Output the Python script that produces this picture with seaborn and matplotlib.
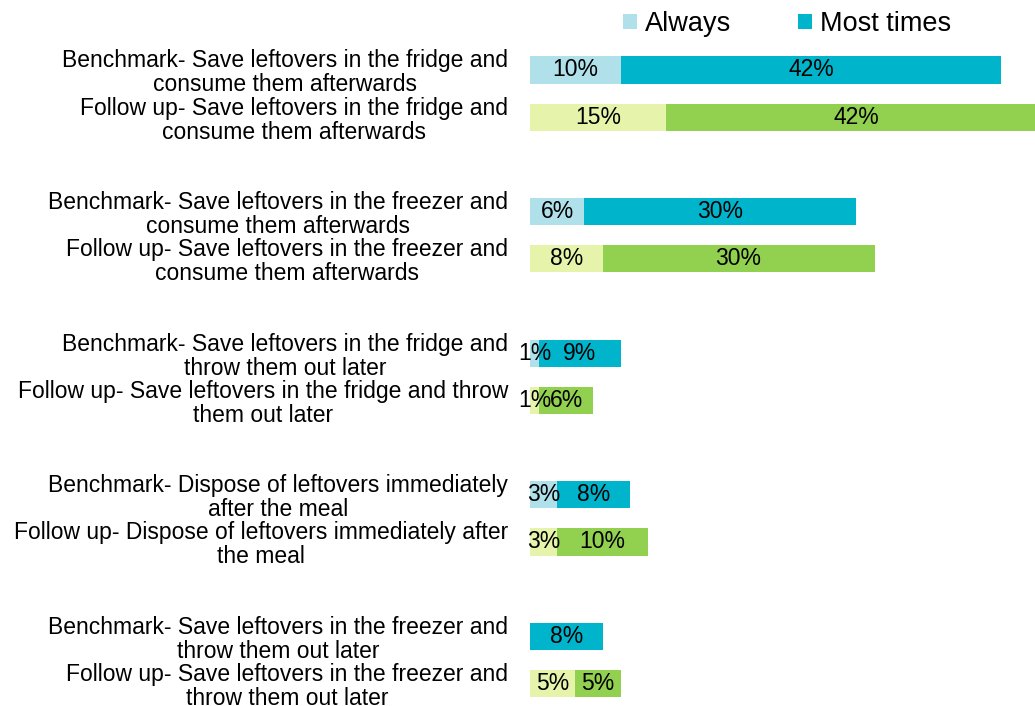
import matplotlib
matplotlib.use("Agg")
import matplotlib.pyplot as plt
from matplotlib.patches import Patch
import numpy as np
import pandas as pd
import seaborn as sns

# Survey statements (one benchmark row and one follow-up row per statement)
labels = [
    "Benchmark- Save leftovers in the fridge and\nconsume them afterwards",
    "Follow up- Save leftovers in the fridge and\nconsume them afterwards",
    "Benchmark- Save leftovers in the freezer and\nconsume them afterwards",
    "Follow up- Save leftovers in the freezer and\nconsume them afterwards",
    "Benchmark- Save leftovers in the fridge and\nthrow them out later",
    "Follow up- Save leftovers in the fridge and throw\nthem out later",
    "Benchmark- Dispose of leftovers immediately\nafter the meal",
    "Follow up- Dispose of leftovers immediately after\nthe meal",
    "Benchmark- Save leftovers in the freezer and\nthrow them out later",
    "Follow up- Save leftovers in the freezer and\nthrow them out later",
]
waves = ["Benchmark", "Follow up"] * 5
always = [10, 15, 6, 8, 1, 1, 3, 3, 0, 5]
most_times = [42, 42, 30, 30, 9, 6, 8, 10, 8, 5]

# Row positions: pairs of rows with an empty slot between statements
positions = [3 * (i // 2) + (i % 2) for i in range(len(labels))]

df = pd.DataFrame({
    "pos": positions,
    "wave": waves,
    "always": always,
    "most": most_times,
})
df["total"] = df["always"] + df["most"]

dark = {"Benchmark": "#00B4CC", "Follow up": "#92D050"}
light = {"Benchmark": "#B0E0EA", "Follow up": "#E6F3AA"}

sns.set_theme(style="white")
plt.rcParams["font.family"] = ["Liberation Sans", "DejaVu Sans"]
plt.rcParams["text.color"] = "black"
plt.rcParams["ytick.color"] = "black"
plt.rcParams["ytick.labelcolor"] = "black"

W, H = 1035, 706
fig = plt.figure(figsize=(W / 100, H / 100), dpi=100)

# Axes placement in pixels
row_step = 47.2
y_first = 70
ylim_top, ylim_bot = -0.6, 13.5
top_px = y_first + ylim_top * row_step
bot_px = y_first + ylim_bot * row_step
left_px, right_px = 530, 1035
ax = fig.add_axes([left_px / W, 1 - bot_px / H, (right_px - left_px) / W, (bot_px - top_px) / H])

bar_w = 0.58
# Full bar ("Most times" colour) then the "Always" part over its left end
sns.barplot(data=df, x="total", y="pos", hue="wave", palette=dark, orient="h",
            native_scale=True, dodge=False, width=bar_w, errorbar=None,
            saturation=1, legend=False, linewidth=0, ax=ax)
sns.barplot(data=df, x="always", y="pos", hue="wave", palette=light, orient="h",
            native_scale=True, dodge=False, width=bar_w, errorbar=None,
            saturation=1, legend=False, linewidth=0, ax=ax)

ax.set_xlim(0, 55.7)
ax.set_ylim(ylim_bot, ylim_top)

label_fs = 16.5
for p, a, m in zip(positions, always, most_times):
    if a > 0:
        ax.text(a / 2, p, f"{a}%", ha="center", va="center", fontsize=label_fs,
                color="black", clip_on=False)
    if m > 0:
        ax.text(a + m / 2, p, f"{m}%", ha="center", va="center", fontsize=label_fs,
                color="black", clip_on=False)

ax.set_yticks(positions)
ax.set_yticklabels(labels, fontsize=label_fs, ha="right", multialignment="center",
                   linespacing=1.05, color="black")
ax.tick_params(axis="y", length=0, pad=15.8)
ax.set_xticks([])
ax.set_xlabel("")
ax.set_ylabel("")
for s in ax.spines.values():
    s.set_visible(False)

handles = [Patch(facecolor=light["Benchmark"], edgecolor="none", label="Always"),
           Patch(facecolor=dark["Benchmark"], edgecolor="none", label="Most times")]
fig.legend(handles=handles, loc="center left", bbox_to_anchor=(623 / W, 1 - 24 / H),
           ncol=2, frameon=False, fontsize=19.5, handlelength=0.52, handleheight=0.52,
           handletextpad=0.3, columnspacing=2.44, borderpad=0, borderaxespad=0,
           labelcolor="black")

fig.savefig("out.png", dpi=100)
